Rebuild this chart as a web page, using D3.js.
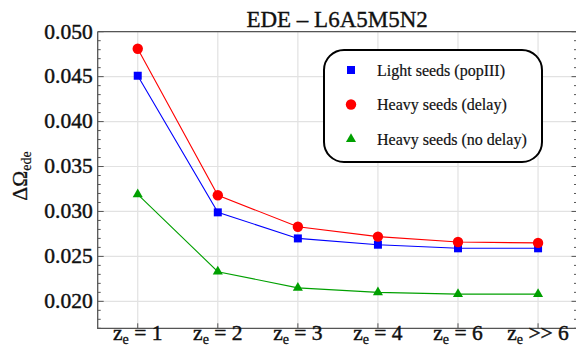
<!DOCTYPE html>
<html><head><meta charset="utf-8">
<script src="https://cdn.jsdelivr.net/npm/d3@7"></script>
<style>body{margin:0;background:#fff}svg{display:block}</style>
</head><body>
<svg id="c" width="576" height="354"></svg>
<script>
const categories = ["1", "2", "3", "4", "6", ">> 6"];
const lightSeeds = [0.0451, 0.0299, 0.0270, 0.0263, 0.0259, 0.0259];
const heavyDelay = [0.0481, 0.0318, 0.0283, 0.0272, 0.0266, 0.0265];
const heavyNoDelay = [0.0319, 0.0233, 0.0215, 0.0210, 0.0208, 0.0208];
const yTicks = [0.020, 0.025, 0.030, 0.035, 0.040, 0.045, 0.050];
const seriesNames = ["Light seeds (popIII)", "Heavy seeds (delay)", "Heavy seeds (no delay)"];

const svg = d3.select("#c");
const FONT = "Liberation Serif";
const L = 97.7, R = 576.5, T = 31.7, B = 328.3;
const x = d3.scaleLinear().domain([-0.5, 5.48]).range([L, R]);
const y = d3.scaleLinear().domain([0.017, 0.050]).range([B, T]);

function txt(sel, size, sw) {
  return sel.attr("font-family", FONT).attr("font-size", size).attr("fill", "#111")
    .attr("stroke", "#111").attr("stroke-width", sw);
}

// grid
const g = svg.append("g");
g.selectAll(".gx").data(categories).enter().append("line")
  .attr("x1", (d,i)=>x(i)).attr("x2", (d,i)=>x(i)).attr("y1", T).attr("y2", B)
  .attr("stroke", "#e2e2e2").attr("stroke-width", 1.2);
g.selectAll(".gy").data(yTicks).enter().append("line")
  .attr("x1", L).attr("x2", R).attr("y1", d=>y(d)).attr("y2", d=>y(d))
  .attr("stroke", "#e2e2e2").attr("stroke-width", 1.2);

const minor = d3.range(17, 51).map(v => v/1000);
const axCol = "#555";
const la = svg.append("g");
la.selectAll("line.mn").data(minor).enter().append("line")
  .attr("x1", L).attr("x2", d => (Math.round(d*1000)%5===0) ? L+6 : L+3)
  .attr("y1", d=>y(d)).attr("y2", d=>y(d)).attr("stroke", axCol).attr("stroke-width", 1);
txt(la.selectAll("text").data(yTicks).enter().append("text"), 21.5, 0.45)
  .attr("x", L-5).attr("y", d=>y(d)+6.8).attr("text-anchor", "end")
  .text(d => d.toFixed(3));
svg.append("g").selectAll("line").data(minor).enter().append("line")
  .attr("x1", R).attr("x2", d => (Math.round(d*1000)%5===0) ? R-5 : R-2.5)
  .attr("y1", d=>y(d)).attr("y2", d=>y(d)).attr("stroke", axCol).attr("stroke-width", 1);
svg.append("g").selectAll("line").data(categories).enter().append("line")
  .attr("x1", (d,i)=>x(i)).attr("x2", (d,i)=>x(i)).attr("y1", B).attr("y2", B-5)
  .attr("stroke", axCol).attr("stroke-width", 1);
svg.append("path").attr("d", `M${L},${T}H${R}M${L},${T}V${B}H${R}`)
  .attr("fill", "none").attr("stroke", axCol).attr("stroke-width", 1.3);

// x labels
const xl = txt(svg.append("g").selectAll("text").data(categories).enter().append("text"), 21.5, 0.45)
  .attr("x", (d,i)=>x(i)).attr("y", 340).attr("text-anchor", "middle");
xl.append("tspan").text("z");
xl.append("tspan").attr("font-size", 14).attr("stroke-width", 0.3).attr("dy", 4).text("e");
xl.append("tspan").attr("dy", -4).text(d => d.startsWith(">>") ? "\u00a0>>\u00a0" + d.slice(3) : "\u00a0=\u00a0" + d);

// y label
const yl = txt(svg.append("text"), 21.5, 0.3)
  .attr("transform", "translate(27,176) rotate(-90)").attr("text-anchor", "middle");
yl.append("tspan").text("\u0394\u03a9");
yl.append("tspan").attr("font-size", 14).attr("stroke-width", 0.2).attr("dy", 4).text("ede");

// title
txt(svg.append("text"), 23, 0.35)
  .attr("x", (L+R)/2).attr("y", 26.7).attr("text-anchor", "middle")
  .text("EDE \u2013 L6A5M5N2");

const series = [
  {vals: lightSeeds, color: "#0000ff", shape: d3.symbolSquare, size: 64},
  {vals: heavyDelay, color: "#ff0000", shape: d3.symbolCircle, size: 85},
  {vals: heavyNoDelay, color: "#00a000", shape: d3.symbolTriangle, size: 44}
];
const line = d3.line().x((d,i)=>x(i)).y(d=>y(d));
series.forEach(s => {
  svg.append("path").attr("d", line(s.vals)).attr("fill", "none")
    .attr("stroke", s.color).attr("stroke-width", 1.1);
});
series.forEach(s => {
  svg.append("g").selectAll("path").data(s.vals).enter().append("path")
    .attr("d", d3.symbol().type(s.shape).size(s.size))
    .attr("transform", (d,i)=>`translate(${x(i)},${y(d)})`).attr("fill", s.color);
});

// legend
const lg = svg.append("g");
lg.append("rect").attr("x", 324).attr("y", 50).attr("width", 218).attr("height", 112)
  .attr("rx", 20).attr("fill", "#fff").attr("stroke", "#000").attr("stroke-width", 2);
series.forEach((s, k) => {
  const cy = 70 + k*34.5;
  lg.append("path").attr("d", d3.symbol().type(s.shape).size(s.size))
    .attr("transform", `translate(351,${cy})`).attr("fill", s.color);
  txt(lg.append("text"), 16, 0.2)
    .attr("x", 377).attr("y", cy+5.5).text(seriesNames[k]);
});
</script>
</body></html>
